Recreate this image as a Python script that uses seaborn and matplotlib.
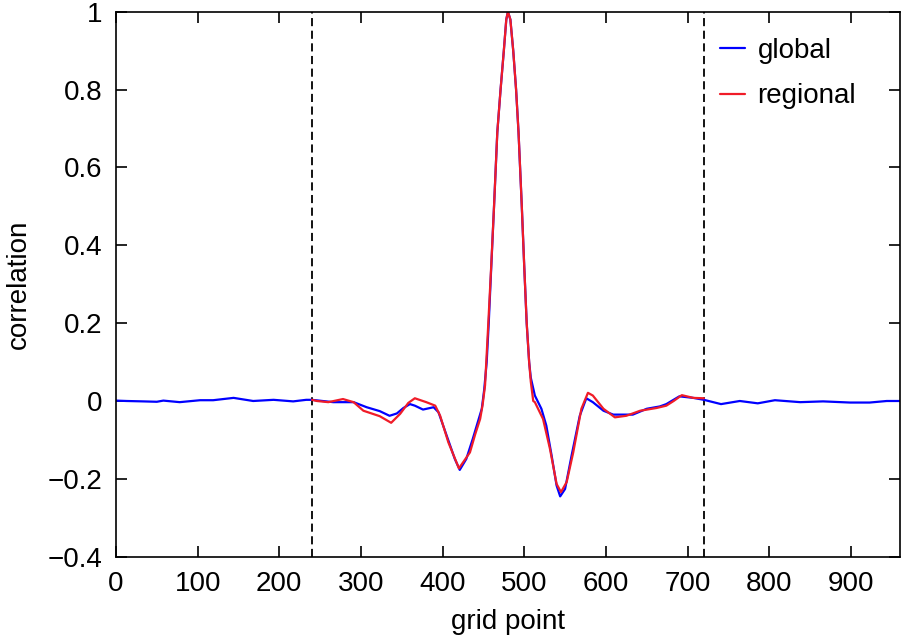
import matplotlib
matplotlib.use('Agg')
import matplotlib.pyplot as plt
import seaborn as sns
import pandas as pd

# global correlation curve
global_x = [0, 13, 33, 50, 58, 78, 103, 119, 144, 168, 193, 217, 233, 240, 266, 291,
            307, 323, 335, 344, 352, 360, 366, 376, 389, 395, 405, 415, 421, 429, 437,
            443, 448, 451, 454, 456.5, 459.5, 463, 467, 471, 475, 478, 480, 483, 486.5,
            490, 493, 497, 500, 503, 506, 508, 513, 521, 527, 533.5, 539.6, 544, 550,
            558, 568, 576, 584, 597, 609, 633, 650, 666, 674, 690, 707, 720, 741, 764,
            786, 807, 838, 866, 899, 923, 944, 960]
global_y = [0.001, 0.0, -0.001, -0.002, 0.001, -0.003, 0.002, 0.002, 0.008, 0.0, 0.003,
            -0.001, 0.003, 0.003, -0.003, -0.003, -0.016, -0.026, -0.038, -0.032, -0.018,
            -0.008, -0.012, -0.022, -0.016, -0.029, -0.089, -0.149, -0.177, -0.149, -0.097,
            -0.055, -0.02, 0.03, 0.1, 0.2, 0.34, 0.5, 0.69, 0.8, 0.9, 0.98, 1.0, 0.98, 0.9,
            0.8, 0.69, 0.5, 0.345, 0.2, 0.1, 0.06, 0.014, -0.02, -0.063, -0.14, -0.217,
            -0.245, -0.226, -0.14, -0.038, 0.007, -0.003, -0.025, -0.035, -0.035, -0.02,
            -0.014, -0.008, 0.012, 0.008, 0.003, -0.008, 0.0, -0.006, 0.002, -0.003,
            -0.001, -0.004, -0.004, 0.0, 0.0]

# regional correlation curve (only inside the region)
regional_x = [240, 246, 260, 278, 291, 303, 323, 337, 348, 358, 366, 380, 391, 397, 407,
              420, 433.5, 440, 446, 449, 452, 455.5, 459.5, 463, 467, 471, 475, 478, 480,
              483, 486.5, 490, 493, 497, 500, 503, 506, 508, 511, 513, 523, 531.5, 539.6,
              545, 552, 560, 570, 578, 584, 597, 611, 625, 642, 662, 674, 683, 693, 707, 720]
regional_y = [0.003, 0.0, -0.003, 0.005, -0.003, -0.025, -0.039, -0.056, -0.033, -0.005,
              0.007, -0.003, -0.012, -0.038, -0.106, -0.173, -0.132, -0.085, -0.046, -0.01,
              0.04, 0.18, 0.345, 0.5, 0.69, 0.8, 0.9, 0.98, 1.0, 0.98, 0.9, 0.8, 0.69, 0.5,
              0.345, 0.2, 0.1, 0.05, 0.0, -0.003, -0.046, -0.123, -0.213, -0.234, -0.208,
              -0.132, -0.02, 0.021, 0.014, -0.02, -0.042, -0.038, -0.025, -0.018, -0.012,
              0.0, 0.015, 0.008, 0.007]

region_bounds = [240, 720]
x_ticks = [0, 100, 200, 300, 400, 500, 600, 700, 800, 900]
y_ticks = [-0.4, -0.2, 0, 0.2, 0.4, 0.6, 0.8, 1]
y_tick_labels = ['\u22120.4', '\u22120.2', '0', '0.2', '0.4', '0.6', '0.8', '1']

df_global = pd.DataFrame({'grid point': global_x, 'correlation': global_y})
df_regional = pd.DataFrame({'grid point': regional_x, 'correlation': regional_y})

sns.set_style('ticks')
plt.rcParams['font.family'] = ['Liberation Sans', 'DejaVu Sans']
plt.rcParams['axes.linewidth'] = 1.2
plt.rcParams['text.color'] = 'black'
plt.rcParams['axes.labelcolor'] = 'black'

fig = plt.figure(figsize=(9.02, 6.43), dpi=100)
ax = fig.add_axes([0.1286, 0.1342, 0.869, 0.8476])

for b in region_bounds:
    ax.axvline(b, color='black', lw=1.3, ls=(0, (4.5, 2.5)))

sns.lineplot(data=df_global, x='grid point', y='correlation', color='#0000ff', lw=1.6,
             label='global', ax=ax, sort=False)
sns.lineplot(data=df_regional, x='grid point', y='correlation', color='#f01c28', lw=1.6,
             label='regional', ax=ax, sort=False)

ax.set_xlim(0, 960)
ax.set_ylim(-0.4, 1)
ax.set_xticks(x_ticks)
ax.set_yticks(y_ticks)
ax.set_yticklabels(y_tick_labels)
ax.tick_params(direction='in', length=8, width=1.2, top=True, right=True,
               labelsize=20, colors='black')
ax.tick_params(axis='x', pad=10)
ax.tick_params(axis='y', pad=10)
for s in ax.spines.values():
    s.set_visible(True)
    s.set_color('black')
ax.set_xlabel('grid point', fontsize=20, labelpad=9)
ax.set_ylabel('correlation', fontsize=20, labelpad=11)

ax.legend(loc='upper right', bbox_to_anchor=(0.976, 0.998), frameon=False, fontsize=20,
          handlelength=0.9, handletextpad=0.45, labelspacing=0.7)

fig.savefig('out.png', dpi=100)
